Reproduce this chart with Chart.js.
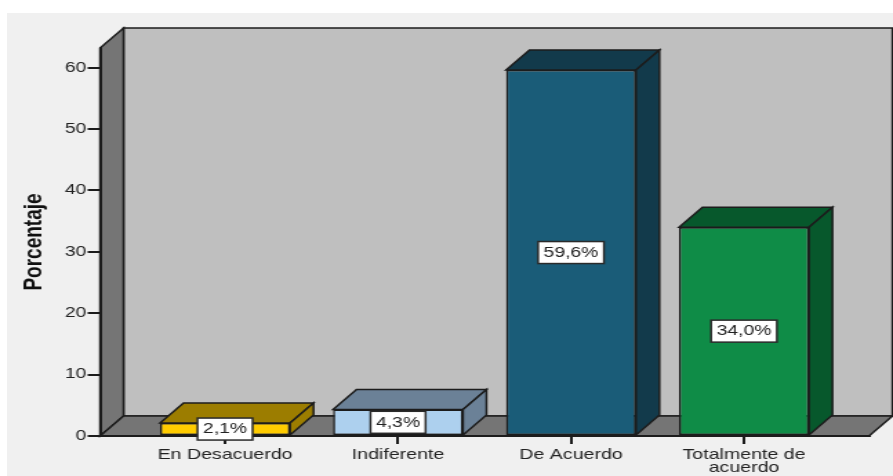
<!DOCTYPE html>
<html>
<head>
<meta charset="utf-8">
<style>
html, body { margin: 0; padding: 0; background: #fff; overflow: hidden; }
#panel { position: absolute; left: 7px; top: 13px; right: 0; bottom: 0; background: #f0f0f0; }
/* the original picture is stretched sideways, so the whole canvas is too */
#myChart { position: absolute; left: 0; top: 0; transform-origin: 0 0; transform: scaleX(1.3802); }
</style>
</head>
<body>
<div id="panel"></div>
<canvas id="myChart" width="647" height="476"></canvas>
<script src="https://cdn.jsdelivr.net/npm/chart.js@4/dist/chart.umd.min.js"></script>
<script>
var categories = ["En Desacuerdo", "Indiferente", "De Acuerdo", ["Totalmente de", "acuerdo"]];
var values = [2.1, 4.3, 59.6, 34.0];
var frontColors = ["#ffcc00", "#add0ee", "#1a5c78", "#0f8c47"];
var depthColors = ["#9c7d00", "#6b8197", "#123a4b", "#07582c"];
var lineColor = "#1c1c1c";
var depthX = 17;
var depthY = 20;

function poly(ctx, pts, fill) {
    ctx.beginPath();
    pts.forEach(function (p, i) {
        if (i === 0) ctx.moveTo(p[0], p[1]);
        else ctx.lineTo(p[0], p[1]);
    });
    ctx.closePath();
    ctx.fillStyle = fill;
    ctx.fill();
    ctx.lineWidth = 1.5;
    ctx.strokeStyle = lineColor;
    ctx.stroke();
}

// back wall, left wall and floor of the 3D box
var boxPlugin = {
    id: 'box',
    beforeDraw: function (chart) {
        var ctx = chart.ctx, a = chart.chartArea;
        ctx.save();
        poly(ctx, [[a.left + depthX, a.top - depthY], [a.right + depthX, a.top - depthY],
                   [a.right + depthX, a.bottom - depthY], [a.left + depthX, a.bottom - depthY]], "#bfbfbf");
        poly(ctx, [[a.left, a.top], [a.left + depthX, a.top - depthY],
                   [a.left + depthX, a.bottom - depthY], [a.left, a.bottom]], "#757575");
        poly(ctx, [[a.left, a.bottom], [a.left + depthX, a.bottom - depthY],
                   [a.right + depthX, a.bottom - depthY], [a.right, a.bottom]], "#757575");
        ctx.restore();
    },
    beforeDatasetsDraw: function (chart) {
        var ctx = chart.ctx;
        ctx.save();
        chart.getDatasetMeta(0).data.forEach(function (bar, i) {
            var p = bar.getProps(['x', 'y', 'base', 'width'], true);
            var x0 = p.x - p.width / 2, x1 = p.x + p.width / 2;
            poly(ctx, [[x0, p.y], [x0 + depthX, p.y - depthY], [x1 + depthX, p.y - depthY], [x1, p.y]], depthColors[i]);
            poly(ctx, [[x1, p.y], [x1 + depthX, p.y - depthY], [x1 + depthX, p.base - depthY], [x1, p.base]], depthColors[i]);
        });
        ctx.restore();
    },
    afterDatasetsDraw: function (chart) {
        var ctx = chart.ctx;
        ctx.save();
        ctx.font = "14px 'Liberation Sans'";
        ctx.textAlign = 'center';
        ctx.textBaseline = 'middle';
        chart.getDatasetMeta(0).data.forEach(function (bar, i) {
            var p = bar.getProps(['x', 'y', 'base'], true);
            var text = values[i].toFixed(1).replace('.', ',') + '%';
            var w = ctx.measureText(text).width + 8;
            var cy = (p.y + p.base) / 2;
            ctx.fillStyle = "#ffffff";
            ctx.fillRect(p.x - w / 2, cy - 11, w, 22);
            ctx.lineWidth = 1.5;
            ctx.strokeStyle = "#2a2a2a";
            ctx.strokeRect(p.x - w / 2, cy - 11, w, 22);
            ctx.fillStyle = "#222222";
            ctx.fillText(text, p.x, cy + 0.5);
        });
        ctx.restore();
    }
};

var ctx = document.getElementById('myChart').getContext('2d');
new Chart(ctx, {
    type: 'bar',
    plugins: [boxPlugin],
    data: {
        datasets: [{
            data: values.map(function (v, i) { return { x: i, y: v }; }),
            backgroundColor: frontColors,
            borderColor: lineColor,
            borderWidth: 1.5,
            borderSkipped: false,
            categoryPercentage: 1,
            barPercentage: 0.7514
        }]
    },
    options: {
        responsive: false,
        animation: false,
        layout: { padding: { top: 48, right: 17.4, left: 0, bottom: 0 } },
        plugins: { legend: { display: false }, tooltip: { enabled: false } },
        scales: {
            x: {
                type: 'linear',
                offset: false,
                min: -0.7225,
                max: 3.7225,
                afterBuildTicks: function (scale) {
                    scale.ticks = categories.map(function (c, i) { return { value: i }; });
                },
                afterFit: function (scale) { scale.height = 40; },
                grid: { display: true, offset: false, drawOnChartArea: false, color: lineColor, lineWidth: 2, tickLength: 8 },
                border: { color: lineColor, width: 2 },
                ticks: {
                    autoSkip: false,
                    maxRotation: 0,
                    padding: 4.5,
                    color: "#222222",
                    font: { family: "'Liberation Sans'", size: 14.2, lineHeight: 0.92 },
                    callback: function (value) { return categories[value]; }
                }
            },
            y: {
                min: 0,
                max: 63.2,
                afterFit: function (scale) { scale.width = 72.5; },
                grid: { display: true, drawOnChartArea: false, color: lineColor, lineWidth: 2, tickLength: 9 },
                border: { color: lineColor, width: 2 },
                ticks: {
                    stepSize: 10,
                    includeBounds: false,
                    padding: 1,
                    color: "#222222",
                    font: { family: "'Liberation Sans'", size: 14 }
                },
                title: {
                    display: true,
                    text: 'Porcentaje',
                    color: "#111111",
                    padding: { top: 13, bottom: 0 },
                    font: { family: "'Liberation Sans'", size: 19, weight: 'bold' }
                }
            }
        }
    }
});
</script>
</body>
</html>
